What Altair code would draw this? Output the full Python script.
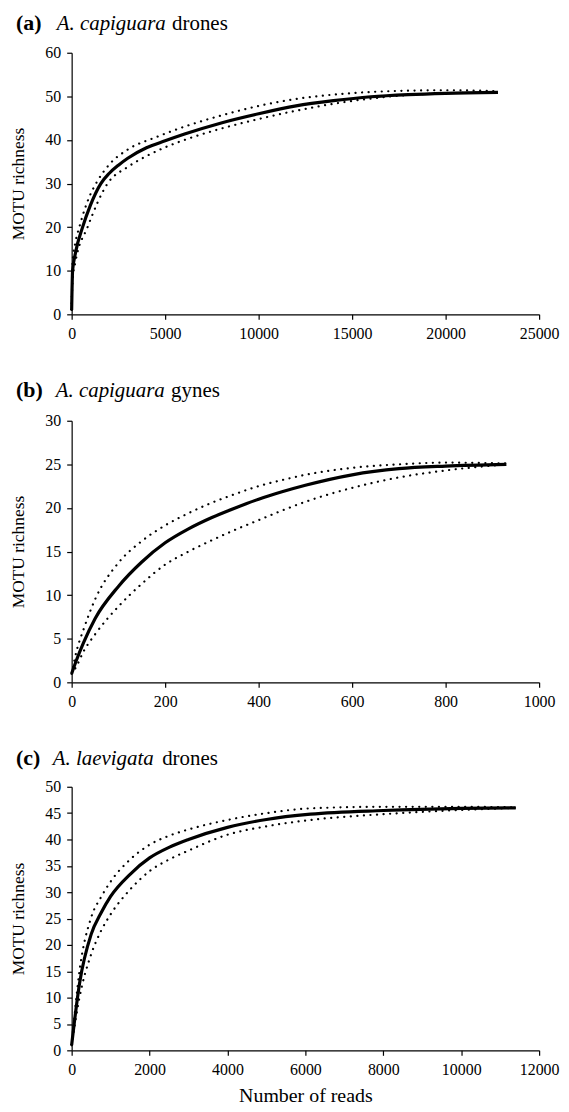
import altair as alt
import pandas as pd

# ---------------- data ----------------
# (a) A. capiguara drones
a_x = [0, 50, 200, 586, 1000, 1560, 2000, 2500, 3000, 4000, 5000, 6000, 8000, 10000, 12000, 14000, 16000, 18000, 20000, 22800]
a_mid = [1, 10, 14, 20, 25, 30, 32.3, 34.2, 35.8, 38.2, 39.8, 41.3, 43.9, 46.0, 47.8, 49.0, 49.9, 50.4, 50.7, 50.9]
a_up_x = [0, 50, 200, 410, 1000, 1300, 2000, 3000, 4500, 6000, 8000, 10000, 12000, 14000, 16000, 18000, 20000, 22800]
a_up = [1, 12, 16.5, 20, 27.5, 30, 34.3, 37.8, 40.6, 43.0, 45.6, 47.8, 49.4, 50.4, 51.0, 51.3, 51.4, 51.2]
a_lo_x = [0, 50, 200, 850, 1920, 3000, 4000, 5000, 6450, 8000, 10000, 12000, 14000, 16000, 18000, 20000, 22800]
a_lo = [1, 8, 12, 20, 30, 33.8, 36.3, 38.3, 40.6, 42.6, 44.8, 46.7, 48.3, 49.5, 50.3, 50.7, 50.9]

# (b) A. capiguara gynes
b_x = [0, 10, 25, 50, 100, 150, 200, 250, 300, 350, 400, 450, 500, 600, 700, 800, 930]
b_mid = [1, 2.5, 4.5, 7.3, 11.0, 13.8, 16.0, 17.6, 18.9, 20.0, 21.0, 21.85, 22.6, 23.8, 24.5, 24.8, 25.0]
b_up = [1, 3.5, 6.0, 9.5, 13.7, 16.2, 18.0, 19.4, 20.6, 21.6, 22.5, 23.2, 23.8, 24.6, 25.0, 25.2, 25.1]
b_lo = [1, 1.8, 3.5, 5.5, 8.7, 11.3, 13.5, 15.0, 16.3, 17.5, 18.6, 19.7, 20.7, 22.3, 23.5, 24.3, 25.0]

# (c) A. laevigata drones
c_x = [0, 200, 500, 750, 1000, 1500, 2000, 2500, 3000, 4000, 5000, 6130, 8000, 10000, 11400]
c_mid = [1, 12.6, 22.0, 26.0, 29.2, 33.4, 36.5, 38.5, 40.0, 42.3, 43.8, 44.8, 45.5, 45.9, 46.0]
c_up = [1, 15.0, 25.2, 29.0, 32.0, 36.2, 39.0, 40.7, 41.9, 43.7, 45.0, 45.9, 46.2, 46.2, 46.1]
c_lo = [1, 10.0, 18.2, 22.6, 25.8, 30.5, 34.0, 36.2, 37.9, 40.9, 42.5, 43.7, 44.8, 45.6, 46.0]

letters = ["(a)", "(b)", "(c)"]
species = ["A. capiguara", "A. capiguara", "A. laevigata"]
castes = ["drones", "gynes", "drones"]
x_ticks = [[0, 5000, 10000, 15000, 20000, 25000],
           [0, 200, 400, 600, 800, 1000],
           [0, 2000, 4000, 6000, 8000, 10000, 12000]]
y_ticks = [[0, 10, 20, 30, 40, 50, 60],
           [0, 5, 10, 15, 20, 25, 30],
           [0, 5, 10, 15, 20, 25, 30, 35, 40, 45, 50]]

FONT = "Liberation Serif, Times New Roman, serif"
W = 470
HEIGHTS = [263, 263, 265]
TITLE_Y = [-23, -24, -22]
SPECIES_X = [-15, -16, -19]
CASTE_X = [101, 100, 91]


def panel(i, mx, my, ux, uy, lx, ly, show_xtitle):
    xd = [x_ticks[i][0], x_ticks[i][-1]]
    yd = [y_ticks[i][0], y_ticks[i][-1]]
    xs = alt.X("x:Q", scale=alt.Scale(domain=xd, nice=False),
               axis=alt.Axis(values=x_ticks[i], tickCount=len(x_ticks[i]), format="d",
                             labelOverlap=False,
                             title="Number of reads" if show_xtitle else None))
    ys = alt.Y("y:Q", scale=alt.Scale(domain=yd, nice=False),
               axis=alt.Axis(values=y_ticks[i], tickCount=len(y_ticks[i]), format="d",
                             labelOverlap=False, title="MOTU richness"))
    mid = alt.Chart(pd.DataFrame({"x": mx, "y": my})).mark_line(
        color="black", strokeWidth=3.2, interpolate="monotone").encode(x=xs, y=ys)
    up = alt.Chart(pd.DataFrame({"x": ux, "y": uy})).mark_line(
        color="black", strokeWidth=2.2, strokeDash=[0.1, 6.5], strokeCap="round",
        interpolate="monotone").encode(x="x:Q", y="y:Q")
    lo = alt.Chart(pd.DataFrame({"x": lx, "y": ly})).mark_line(
        color="black", strokeWidth=2.2, strokeDash=[0.1, 6.5], strokeCap="round",
        interpolate="monotone").encode(x="x:Q", y="y:Q")
    ty = TITLE_Y[i]
    t1 = alt.Chart(pd.DataFrame({"t": [letters[i]]})).mark_text(
        font=FONT, fontSize=22, fontWeight="bold", align="left", baseline="alphabetic",
        color="black").encode(x=alt.value(-56), y=alt.value(ty), text="t:N")
    t2 = alt.Chart(pd.DataFrame({"t": [species[i]]})).mark_text(
        font=FONT, fontSize=21, fontStyle="italic", align="left", baseline="alphabetic",
        color="black").encode(x=alt.value(SPECIES_X[i]), y=alt.value(ty), text="t:N")
    t3 = alt.Chart(pd.DataFrame({"t": [castes[i]]})).mark_text(
        font=FONT, fontSize=21, align="left", baseline="alphabetic",
        color="black").encode(x=alt.value(CASTE_X[i]), y=alt.value(ty), text="t:N")
    return alt.layer(mid, up, lo, t1, t2, t3).properties(width=W, height=HEIGHTS[i])


pa = panel(0, a_x, a_mid, a_up_x, a_up, a_lo_x, a_lo, False)
pb = panel(1, b_x, b_mid, b_x, b_up, b_x, b_lo, False)
pc = panel(2, c_x, c_mid, c_x, c_up, c_x, c_lo, True)

chart = alt.vconcat(pa, pb, pc, spacing=38).properties(
    padding={"top": 1, "left": 2, "right": 2, "bottom": 2}
).configure_view(stroke=None).configure_axis(
    grid=False, domainColor="black", tickColor="black", domainWidth=1.2, tickWidth=1.2,
    tickSize=5, labelPadding=6, labelFont=FONT, labelFontSize=16, labelColor="black",
    titleFont=FONT, titleFontWeight="normal", titleColor="black"
).configure_axisX(
    labelFlush=False, titleFontSize=20, titlePadding=8
).configure_axisY(
    titleFontSize=17.5, titlePadding=17
)

chart.save("out.html", embed_options={"renderer": "svg", "actions": False})
